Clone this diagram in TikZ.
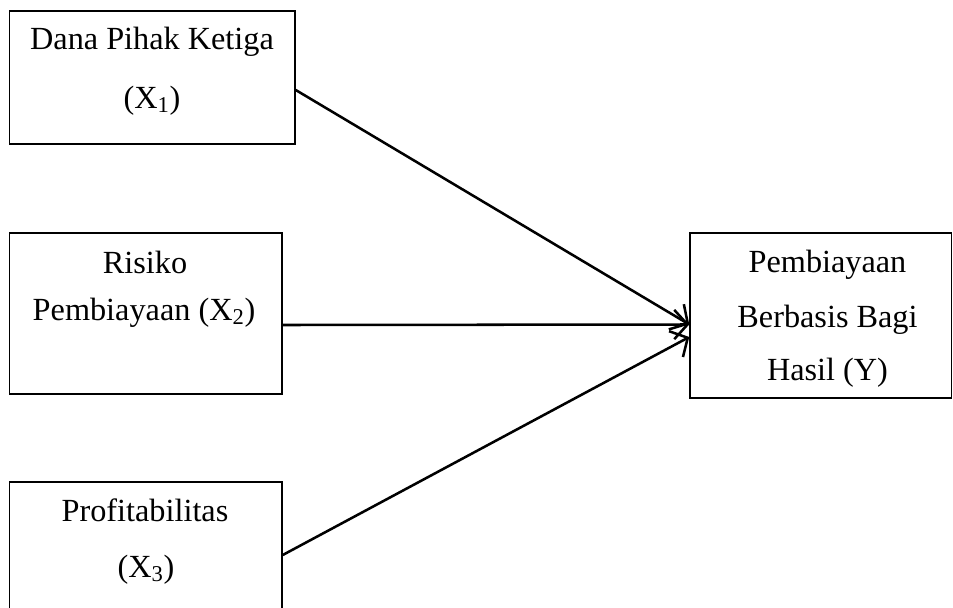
\documentclass[tikz,border=0pt]{standalone}
\usepackage{fontspec}
\setmainfont{Liberation Serif}
\usetikzlibrary{fit,calc,arrows.meta}
\begin{document}
\begin{tikzpicture}[x=0.75pt,y=-0.75pt,
  box/.style={draw=black,line width=1.1pt,inner sep=0pt,fill=none},
  lbl/.style={anchor=base,inner sep=0pt,font=\fontsize{24.2}{28}\selectfont},
  arr/.style={line width=1.9pt,-{Straight Barb[length=10pt,width=22pt,line width=1.9pt]}}]
\clip (0,0) rectangle (953,607);
\fill[white] (0,0) rectangle (953,607);
% boxes
\node[box,fit={(9.5,11) (295,144)}] (b1) {};
\node[box,fit={(9.5,233) (282,394)}] (b2) {};
\node[box,fit={(9.5,482) (282,640)}] (b3) {};
\node[box,fit={(690,233) (951.5,398)}] (by) {};
% labels
\node[lbl] (t1a) at (152,49) {Dana Pihak Ketiga};
\node[lbl] (t1b) at (152,108) {(X\textsubscript{1})};
\node[lbl] (t2a) at (145,273) {Risiko};
\node[lbl] (t2b) at (144,320) {Pembiayaan (X\textsubscript{2})};
\node[lbl] (t3a) at (145,521.5) {Profitabilitas};
\node[lbl] (t3b) at (146,577) {(X\textsubscript{3})};
\node[lbl] (tya) at (827.5,272.5) {Pembiayaan};
\node[lbl] (tyb) at (827.5,327) {Berbasis Bagi};
\node[lbl] (tyc) at (827.5,380.5) {Hasil (Y)};
% connectors
\draw[arr] ($(b1.east)+(0,12.5)$) -- ($(by.west)+(0,9)$);
\draw[arr] ($(b2.east)+(0,11.5)$) -- ($(by.west)+(0,9)$);
\draw[arr] ($(b3.east)+(0,-6)$) -- ($(by.west)+(0,21.5)$);
\end{tikzpicture}
\end{document}
